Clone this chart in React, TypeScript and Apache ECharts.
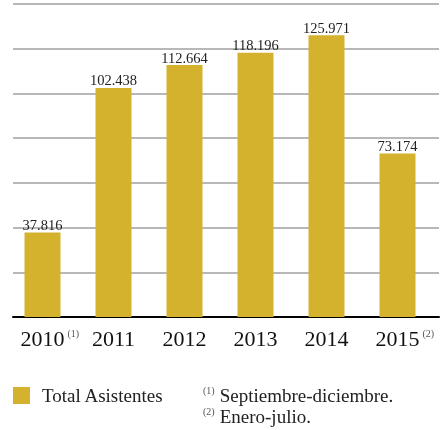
import React, { useEffect, useRef } from "react";
import * as echarts from "echarts";

const categories = ["2010", "2011", "2012", "2013", "2014", "2015"];
const notes = ["(1)", "", "", "", "", "(2)"];
const totalAsistentes = [37.816, 102.438, 112.664, 118.196, 125.971, 73.174];
const seriesName = "Total Asistentes";
const footnotes = [
  { mark: "(1)", text: "Septiembre-diciembre." },
  { mark: "(2)", text: "Enero-julio." },
];

const FONT = "Liberation Serif";
const GOLD = "#d4b22e";

export default function App() {
  const ref = useRef<HTMLDivElement>(null);
  useEffect(() => {
    if (!ref.current) return;
    const chart = echarts.init(ref.current, undefined, { renderer: "svg" });
    const fmt = (v: number) => v.toFixed(3);
    chart.setOption({
      animation: false,
      textStyle: { fontFamily: FONT },
      grid: [
        { left: 13, right: 1, top: 4, bottom: 113, containLabel: false },
        { left: 7, right: 7, top: 4, bottom: 113, containLabel: false },
      ],
      legend: {
        left: 8,
        top: 381,
        padding: 5,
        icon: "rect",
        itemWidth: 17,
        itemHeight: 17,
        textStyle: { fontFamily: FONT, fontSize: 19, color: "#222", padding: [0, 0, 0, 7] },
        data: [seriesName],
      },
      xAxis: [
        {
          type: "category",
          gridIndex: 0,
          data: categories,
          axisLine: { show: true, lineStyle: { color: "#000", width: 2 } },
          axisTick: { show: false },
          axisLabel: { show: false },
        },
        {
          type: "category",
          gridIndex: 1,
          data: categories,
          axisLine: { show: false },
          axisTick: { show: false },
          axisLabel: {
            interval: 0,
            margin: 9,
            formatter: (v: string, i: number) =>
              notes[i] ? `{p|${notes[i]}}{y|${v}}{s|${notes[i]}}` : `{y|${v}}`,
            rich: {
              y: { fontFamily: FONT, fontSize: 22, color: "#111", lineHeight: 24 },
              s: { fontFamily: FONT, fontSize: 10, color: "#555", padding: [0, 0, 10, 3] },
              p: { fontFamily: FONT, fontSize: 10, color: "rgba(0,0,0,0)", padding: [0, 3, 10, 0] },
            },
          },
        },
      ],
      yAxis: [
        {
          type: "value",
          gridIndex: 0,
          min: 0,
          max: 140,
          interval: 20,
          axisLine: { show: false },
          axisTick: { show: false },
          axisLabel: { show: false },
          splitLine: { show: true, lineStyle: { color: "#a0a0a0", width: 1.5 } },
        },
        {
          type: "value",
          gridIndex: 1,
          min: 0,
          max: 140,
          interval: 20,
          axisLine: { show: false },
          axisTick: { show: false },
          axisLabel: { show: false },
          splitLine: { show: false },
        },
      ],
      series: [
        {
          name: seriesName,
          type: "bar",
          xAxisIndex: 1,
          yAxisIndex: 1,
          data: totalAsistentes,
          barWidth: 36,
          itemStyle: { color: GOLD },
          label: {
            show: true,
            position: "top",
            distance: 0,
            formatter: (p: any) => fmt(p.value),
            fontFamily: FONT,
            fontSize: 14.5,
            color: "#222",
          },
        },
      ],
      graphic: footnotes.map((f, i) => ({
        type: "text",
        left: 203,
        top: 385 + i * 21,
        style: {
          text: `{s|${f.mark}}{t|${f.text}}`,
          rich: {
            s: { fontFamily: FONT, fontSize: 10, fill: "#555", padding: [0, 5, 10, 0] },
            t: { fontFamily: FONT, fontSize: 19, fill: "#222", lineHeight: 20 },
          },
        },
      })),
    });
    return () => chart.dispose();
  }, []);
  return (
    <div
      ref={ref}
      style={{ position: "fixed", left: 0, top: 0, width: 440, height: 430 }}
    />
  );
}
